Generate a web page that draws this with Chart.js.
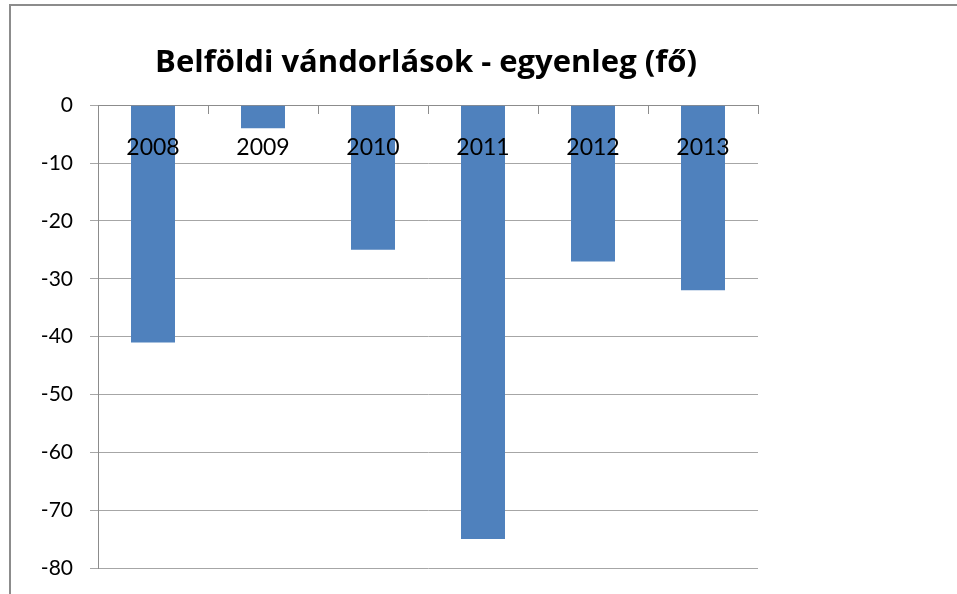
<!DOCTYPE html>
<html>
<head>
<meta charset="utf-8">
<script src="https://cdn.jsdelivr.net/npm/chart.js@4/dist/chart.umd.min.js"></script>
<style>
  html, body { margin: 0; padding: 0; background: #fff; overflow: hidden; }
  #wrap { width: 957px; height: 594px; position: relative; }
</style>
</head>
<body>
<div id="wrap"><canvas id="c" width="957" height="594"></canvas></div>
<script>
const titleText = 'Belföldi vándorlások - egyenleg (fő)';
const categories = ['2008', '2009', '2010', '2011', '2012', '2013'];
const balance = [-41, -4, -25, -75, -27, -32];
const yMin = -80;
const yMax = 0;
const yStep = 10;

const frame = {
  id: 'frame',
  beforeDraw(chart) {
    const ctx = chart.ctx;
    ctx.save();
    ctx.fillStyle = '#ffffff';
    ctx.fillRect(0, 0, chart.width, chart.height);
    ctx.strokeStyle = '#8c8c8c';
    ctx.lineWidth = 2;
    ctx.strokeRect(10, 5, 1200, 1200);
    ctx.restore();
  }
};

new Chart(document.getElementById('c'), {
  type: 'bar',
  data: {
    labels: categories,
    datasets: [{
      label: 'egyenleg',
      data: balance,
      backgroundColor: '#4F81BD',
      borderWidth: 0,
      barPercentage: 0.4,
      categoryPercentage: 1.0
    }]
  },
  options: {
    responsive: false,
    animation: false,
    layout: { padding: { left: 0, right: 105, top: 0, bottom: 26 } },
    plugins: {
      legend: { display: false },
      tooltip: { enabled: false },
      title: {
        display: true,
        text: titleText,
        color: '#000000',
        font: { family: 'Open Sans', size: 31, weight: 'bold' },
        padding: { top: 45, bottom: 23 }
      }
    },
    scales: {
      x: {
        position: { y: 0 },
        offset: true,
        grid: {
          offset: true,
          drawOnChartArea: false,
          drawTicks: true,
          tickLength: 8,
          color: '#8c8c8c'
        },
        border: { display: true, color: '#8c8c8c', width: 1 },
        ticks: {
          z: 1,
          color: '#000000',
          font: { family: 'Lato', size: 23 },
          padding: 21,
          maxRotation: 0
        }
      },
      y: {
        min: yMin,
        max: yMax,
        afterFit(scale) {
          scale.width = 98;
          scale.paddingTop = 0;
          scale.paddingBottom = 0;
        },
        grid: {
          color: '#a6a6a6',
          lineWidth: 1,
          tickLength: 8
        },
        border: { display: true, color: '#8c8c8c', width: 1 },
        ticks: {
          stepSize: yStep,
          color: '#000000',
          font: { family: 'Lato', size: 21 },
          padding: 17
        }
      },
      spacer: {
        type: 'linear',
        axis: 'y',
        position: 'right',
        min: yMin,
        max: yMax,
        afterFit(scale) {
          scale.width = 94;
          scale.paddingTop = 0;
          scale.paddingBottom = 0;
        },
        grid: { display: false, drawOnChartArea: false },
        border: { display: false },
        ticks: { display: false }
      }
    }
  },
  plugins: [frame]
});
</script>
</body>
</html>
